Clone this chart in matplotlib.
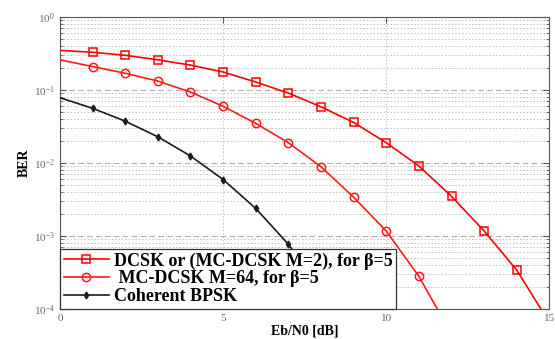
import matplotlib
matplotlib.use("Agg")
import matplotlib.pyplot as plt
from matplotlib.ticker import LogLocator, NullFormatter

# Eb/N0 grid (dB) and BER values
ebn0_dcsk = [0, 1, 2, 3, 4, 5, 6, 7, 8, 9, 10, 11, 12, 13, 14, 15]
ber_dcsk = [0.35, 0.33, 0.30, 0.26, 0.22, 0.177, 0.129, 0.091, 0.059, 0.036,
            0.019, 0.0091, 0.0035, 0.00117, 0.00034, 6.5e-5]

ebn0_mc = [0, 1, 2, 3, 4, 5, 6, 7, 8, 9, 10, 11, 12]
ber_mc = [0.26, 0.21, 0.17, 0.133, 0.094, 0.060, 0.035, 0.019, 0.0089,
          0.0034, 0.00117, 0.00028, 4.5e-5]

ebn0_bpsk = [0, 1, 2, 3, 4, 5, 6, 7, 8, 9]
ber_bpsk = [0.0786, 0.0563, 0.0375, 0.0229, 0.0125, 0.00595, 0.00239,
            0.00077, 0.00019, 3.4e-5]

labels = ["DCSK or (MC-DCSK M=2), for β=5",
          " MC-DCSK M=64, for β=5",
          "Coherent BPSK"]

plt.rcParams["font.family"] = ["Liberation Serif", "DejaVu Serif"]

fig = plt.figure(figsize=(5.55, 3.39), dpi=100)
ax = fig.add_axes([0.108, 0.0885, 0.882, 0.861])

ax.semilogy(ebn0_dcsk, ber_dcsk, color="#ff0000", lw=1.2, marker="s", ms=5.5,
            mfc="none", mew=1.1, markevery=slice(1, None), label=labels[0], zorder=3)
ax.semilogy(ebn0_mc, ber_mc, color="#ff1a1a", lw=1.2, marker="o", ms=6,
            mfc="none", mew=1.1, markevery=slice(1, None), label=labels[1], zorder=3)
ax.semilogy(ebn0_bpsk, ber_bpsk, color="#1a1a1a", lw=1.2, marker="d", ms=3.5,
            markevery=slice(1, None), label=labels[2], zorder=3)

ax.set_xlim(0, 15)
ax.set_ylim(1e-4, 1)
ax.set_xticks([0, 5, 10, 15])
ax.yaxis.set_major_locator(LogLocator(base=10, numticks=10))
ax.yaxis.set_minor_locator(LogLocator(base=10, subs=range(2, 10), numticks=20))
ax.yaxis.set_minor_formatter(NullFormatter())

ax.grid(axis="y", which="major", ls=(0, (5, 3)), color="#b0b0b0", lw=0.8)
ax.grid(axis="y", which="minor", ls=(0, (1.5, 2)), color="#c0c0c0", lw=0.7)
ax.grid(axis="x", which="major", ls=(0, (1.5, 2)), color="#c0c0c0", lw=0.7)

ax.tick_params(which="both", direction="in", top=True, right=True,
               labelsize=8, labelcolor="#666666", color="#555555")
ax.tick_params(which="major", length=4)
ax.tick_params(which="minor", length=2)
for sp in ax.spines.values():
    sp.set_color("#555555")

ax.set_xlabel("Eb/N0 [dB]", fontsize=10, fontweight="bold", labelpad=1)
ax.set_ylabel("BER", fontsize=10, fontweight="bold", labelpad=2)

leg = ax.legend(loc="lower left", prop={"weight": "bold", "size": 13},
                fancybox=False, framealpha=1, edgecolor="#333333",
                borderaxespad=0, handlelength=2.5, labelspacing=0.05,
                borderpad=0.2, handletextpad=0.3)
leg.get_frame().set_linewidth(0.9)

fig.savefig("out.png", dpi=100)
